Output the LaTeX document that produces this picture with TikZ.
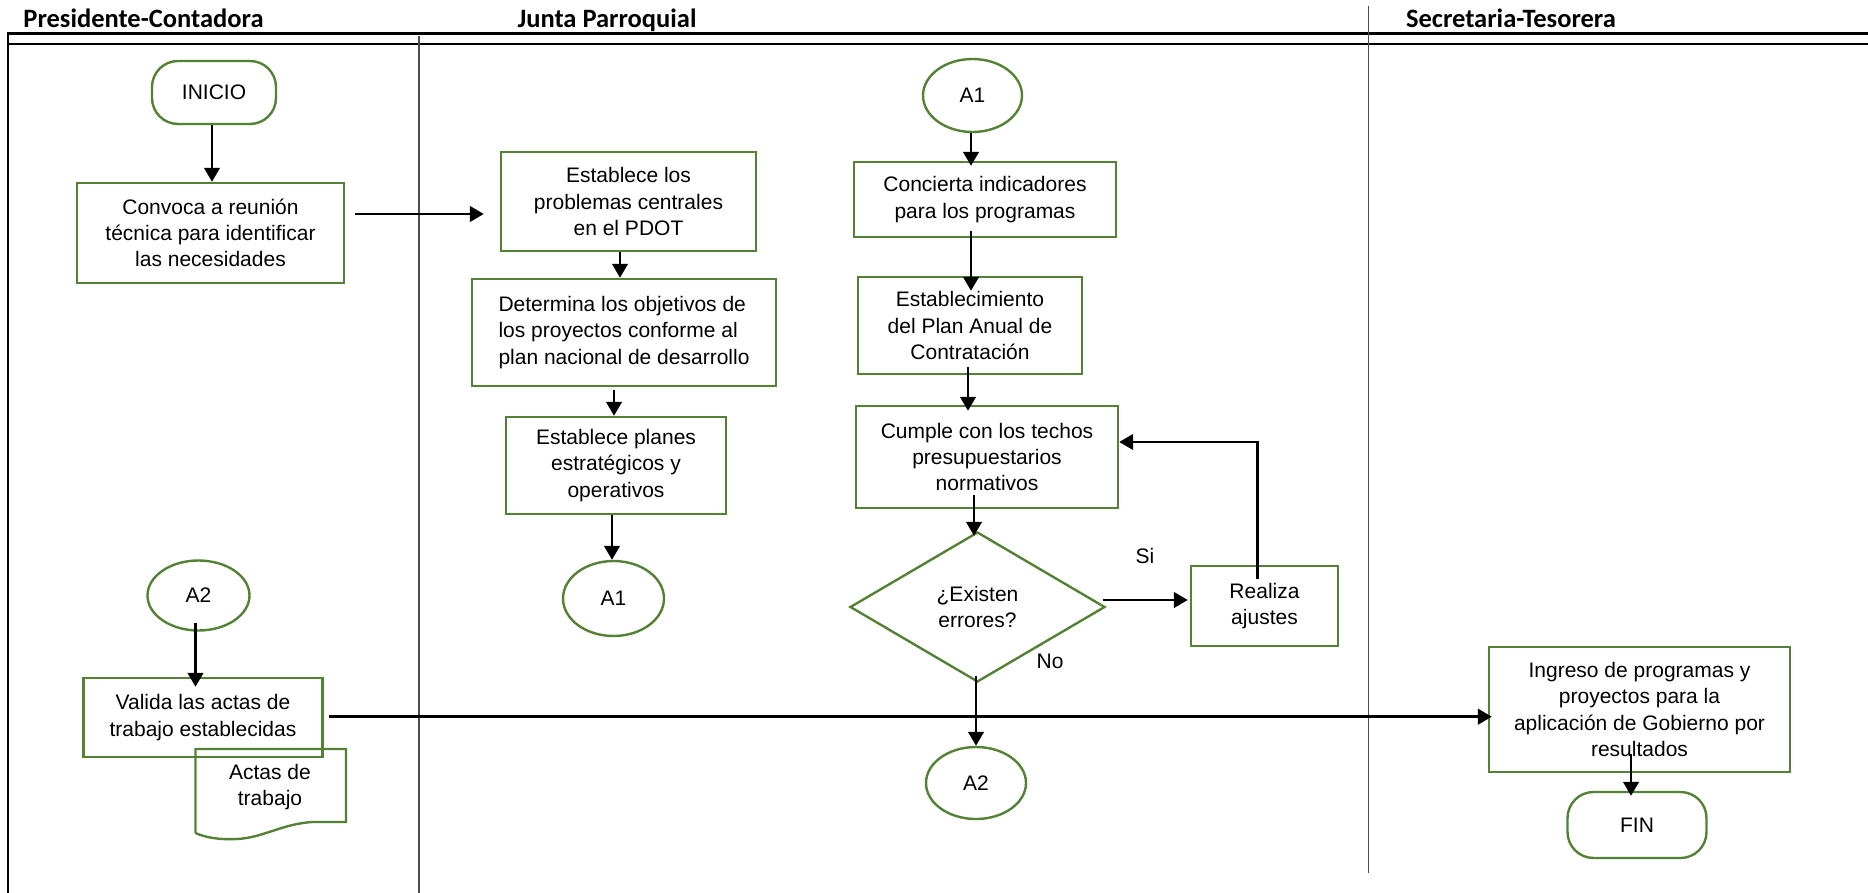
\documentclass[tikz,border=0pt]{standalone}
\usepackage{fontspec}
\setmainfont{Liberation Sans}
\newfontfamily\cabecera{Carlito}
\usepackage{tikz}
\usetikzlibrary{arrows,arrows.meta,shapes.geometric,positioning,calc}
\definecolor{verde}{RGB}{84,130,53}

\begin{document}
\begin{tikzpicture}[x=1pt,y=-1pt,
        font=\fontsize{21}{26.2}\selectfont,
        >={Triangle[length=14pt,width=15.5pt]},
        medida/.style 2 args={minimum width=#1pt,minimum height=#2pt},
        caja/.style={draw=verde,line width=2.4pt,inner sep=0pt,align=center},
        proceso/.style={caja,rectangle},
        terminal/.style={caja,rectangle,rounded corners=26pt},
        conector/.style={caja,ellipse},
        decision/.style={caja,diamond,aspect=1.7},
        flecha/.style={->,line width=2.8pt},
        carril/.style={line width=1.3pt,black!70},
        titulo/.style={anchor=base,font=\cabecera\bfseries\fontsize{26.5}{30}\selectfont}]
        \useasboundingbox (0,0) rectangle (1868,893);
        % draw horizontal lines
        \draw[line width=2.8pt] (7,33.5) -- (1868,33.5);
        \draw[line width=1.4pt] (8,44) -- (1868,44);
        % draw vertical lines
        \draw[line width=2pt] (8,33.5) -- (8,893);
        \draw[carril] (419,36) -- (419,893);
        \draw[carril] (1368.5,6) -- (1368.5,873);
        % draw titles
        \foreach \x/\nombre/\texto in {143.5/presidente/Presidente-Contadora,607/junta/Junta Parroquial,1511/secretaria/Secretaria-Tesorera}
        \node[titulo] (\nombre) at (\x,28) {\texto};
        % draw nodes
        \node[terminal,medida={124}{63}] (inicio) at (214,92.5) {INICIO};
        \node[proceso,medida={267}{100}] (convoca) at (210.5,233) {Convoca a reunión\\técnica para identificar\\las necesidades};
        \node[proceso,medida={255}{99}] (problemas) at (628.5,201.5) {Establece los\\problemas centrales\\en el PDOT};
        \node[proceso,medida={304}{107},align=left] (objetivos) at (624,332.5) {Determina los objetivos de\\los proyectos conforme al\\plan nacional de desarrollo};
        \node[proceso,medida={220}{97}] (planes) at (616,465.5) {Establece planes\\estratégicos y\\operativos};
        \node[conector,medida={101}{75}] (aUnoIzq) at (613.5,598.5) {A1};
        \node[conector,medida={99}{73}] (aUnoDer) at (972.5,95.5) {A1};
        \node[proceso,medida={262}{75}] (indicadores) at (985,199.5) {Concierta indicadores\\para los programas};
        \node[proceso,medida={224}{97}] (plananual) at (970,325.5) {Establecimiento\\del Plan Anual de\\Contratación};
        \node[proceso,medida={262}{102}] (techos) at (987,457) {Cumple con los techos\\presupuestarios\\normativos};
        \node[decision,medida={255}{150}] (errores) at (977.5,607) {¿Existen\\errores?};
        \node[proceso,medida={147}{80}] (ajustes) at (1264.5,606) {Realiza\\ajustes};
        \node[conector,medida={100}{72}] (aDosMed) at (976,783) {A2};
        \node[conector,medida={102}{70}] (aDosIzq) at (198.5,595.5) {A2};
        \node[proceso,medida={239}{79}] (valida) at (203,717.5) {Valida las actas de\\trabajo establecidas};
        \node[align=center] (actas) at (270,787) {Actas de\\trabajo};
        \draw[verde,line width=2.4pt] (195.5,833) -- (195.5,749) -- (346,749) -- (346,822) -- (312,822)
        .. controls (282,824) and (262,838) .. (237,839) .. controls (218,840) and (204,837) .. (195.5,833);
        \node[proceso,medida={301}{125}] (ingreso) at (1639.5,709.5) {Ingreso de programas y\\proyectos para la\\aplicación de Gobierno por\\resultados};
        \node[terminal,medida={139}{66}] (fin) at (1637,825) {FIN};
        \node (si) at (1145,556) {Si};
        \node (no) at (1050,661) {No};
        % draw arrows
        \draw[flecha] ($(inicio.south)+(-2,0)$) -- ($(convoca.north)+(1.5,0)$);
        \draw[flecha] ($(convoca.east)+(10,-19)$) -- ($(problemas.west)+(-16,12.5)$);
        \draw[flecha] ($(problemas.south)+(-8.5,0)$) -- ($(objetivos.north)+(-4,0)$);
        \draw[flecha] ($(objetivos.south)+(-10,3)$) -- ($(planes.north)+(-2,0)$);
        \draw[flecha] ($(planes.south)+(-4,0)$) -- ($(aUnoIzq.north)+(-1.5,0)$);
        \draw[flecha] ($(aUnoDer.south)+(-1.5,0)$) -- ($(indicadores.north)+(-14,5)$);
        \draw[flecha] ($(indicadores.south)+(-14,-7)$) -- ($(plananual.north)+(1,15)$);
        \draw[flecha] ($(plananual.south)+(-2,-8)$) -- ($(techos.north)+(-19,6)$);
        \draw[flecha] ($(techos.south)+(-13,-14)$) -- ($(errores.north)+(-3.5,5)$);
        \draw[flecha] ($(errores.east)+(-3,-7)$) -- ($(ajustes.west)+(-2,-6)$);
        \draw[flecha] ($(ajustes.north)+(-7,14)$) |- ($(techos.east)+(0,-15)$);
        \draw[flecha] ($(errores.south)+(-1.5,-7)$) -- (aDosMed.north);
        \draw[flecha] ($(aDosIzq.south)+(-3,-8.5)$) -- ($(valida.north)+(-7.5,10)$);
        \draw[flecha] ($(valida.east)+(5.5,-0.8)$) -- ($(ingreso.west)+(4,7.2)$);
        \draw[flecha] ($(ingreso.south)+(-8.5,-19)$) -- ($(fin.north)+(-6,5)$);
\end{tikzpicture}
\end{document}
